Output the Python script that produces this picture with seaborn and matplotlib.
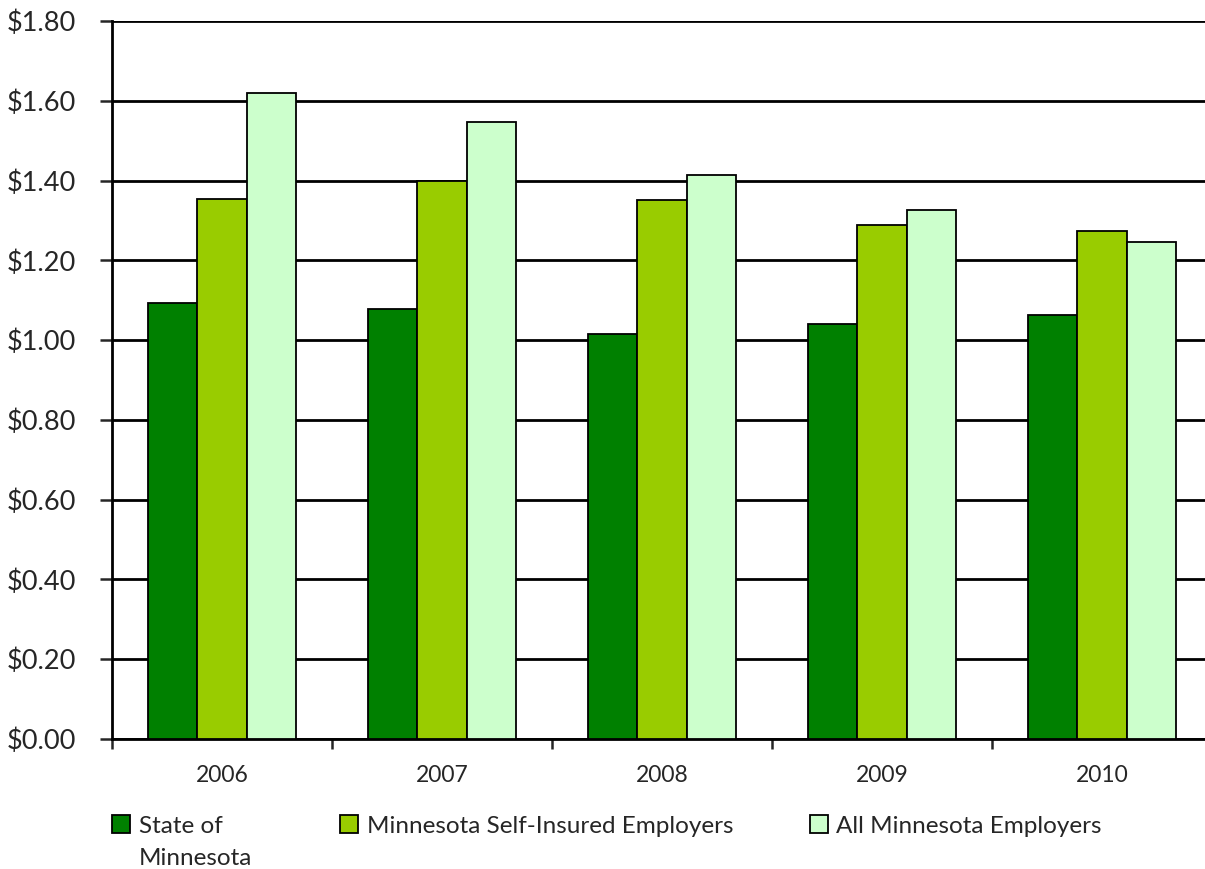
import pandas as pd
import seaborn as sns
import matplotlib.pyplot as plt
from matplotlib.patches import Patch
from matplotlib.ticker import FuncFormatter, FixedLocator

# dati
years = ['2006', '2007', '2008', '2009', '2010']
state_mn = [1.093, 1.079, 1.015, 1.040, 1.064]
self_insured = [1.354, 1.398, 1.352, 1.289, 1.273]
all_mn = [1.620, 1.546, 1.415, 1.327, 1.246]
series_names = ['State of Minnesota', 'Minnesota Self-Insured Employers', 'All Minnesota Employers']
colors = ['#008000', '#99CC00', '#CCFFCC']

df = pd.DataFrame({'Year': years * 3,
                   'Value': state_mn + self_insured + all_mn,
                   'Series': [s for s in series_names for _ in years]})

sns.set_style('white')
plt.rcParams['font.family'] = ['Lato', 'DejaVu Sans']

fig = plt.figure(figsize=(12.05, 8.69), dpi=100)
ax = fig.add_axes([0.093, 0.1496, 1100 / 1205, 0.8262])

sns.barplot(data=df, x='Year', y='Value', hue='Series', palette=colors, saturation=1,
            width=0.67, gap=0, edgecolor='black', linewidth=1.3, ax=ax, zorder=3,
            legend=False)

ax.set_ylim(0, 1.8)
ax.set_xlim(-0.5, 4.5)
ax.set_yticks([i * 0.2 for i in range(10)])
ax.yaxis.set_major_formatter(FuncFormatter(lambda v, p: f'${v:.2f}'))
ax.grid(axis='y', color='black', linewidth=2, zorder=0)
ax.set_axisbelow(True)

# tacche sull'asse x ai confini delle categorie
ax.xaxis.set_minor_locator(FixedLocator([i - 0.5 for i in range(6)]))
ax.tick_params(axis='x', which='major', length=0, labelsize=16.5, pad=19)
ax.tick_params(axis='x', which='minor', length=7, width=1.8, direction='out', bottom=True)
ax.tick_params(axis='y', length=9, width=1.8, direction='out', left=True, labelsize=19.5, pad=17)

ax.set_xlabel('')
ax.set_ylabel('')
for s in ['top', 'right']:
    ax.spines[s].set_visible(False)
for s in ['left', 'bottom']:
    ax.spines[s].set_linewidth(2)
    ax.spines[s].set_color('black')

# legenda: una voce per posizione, come nell'originale
legend_labels = ['State of', series_names[1], series_names[2]]
legend_x = [0.093, 0.282, 0.672]
legs = []
for lab, col, x in zip(legend_labels, colors, legend_x):
    h = Patch(facecolor=col, edgecolor='black', linewidth=1.3)
    lg = fig.legend([h], [lab], loc='upper left', bbox_to_anchor=(x, 0.062),
                    frameon=False, fontsize=17.5, handlelength=0.75, handleheight=0.75,
                    handletextpad=0.35, borderaxespad=0, borderpad=0)
    legs.append(lg)

fig.canvas.draw()
bb = legs[0].get_texts()[0].get_window_extent()
fig.text(bb.x0 / fig.bbox.width, (bb.y0 - 11) / fig.bbox.height, 'Minnesota',
         fontsize=17.5, ha='left', va='top')

plt.savefig('out.png', dpi=100)
plt.close()
